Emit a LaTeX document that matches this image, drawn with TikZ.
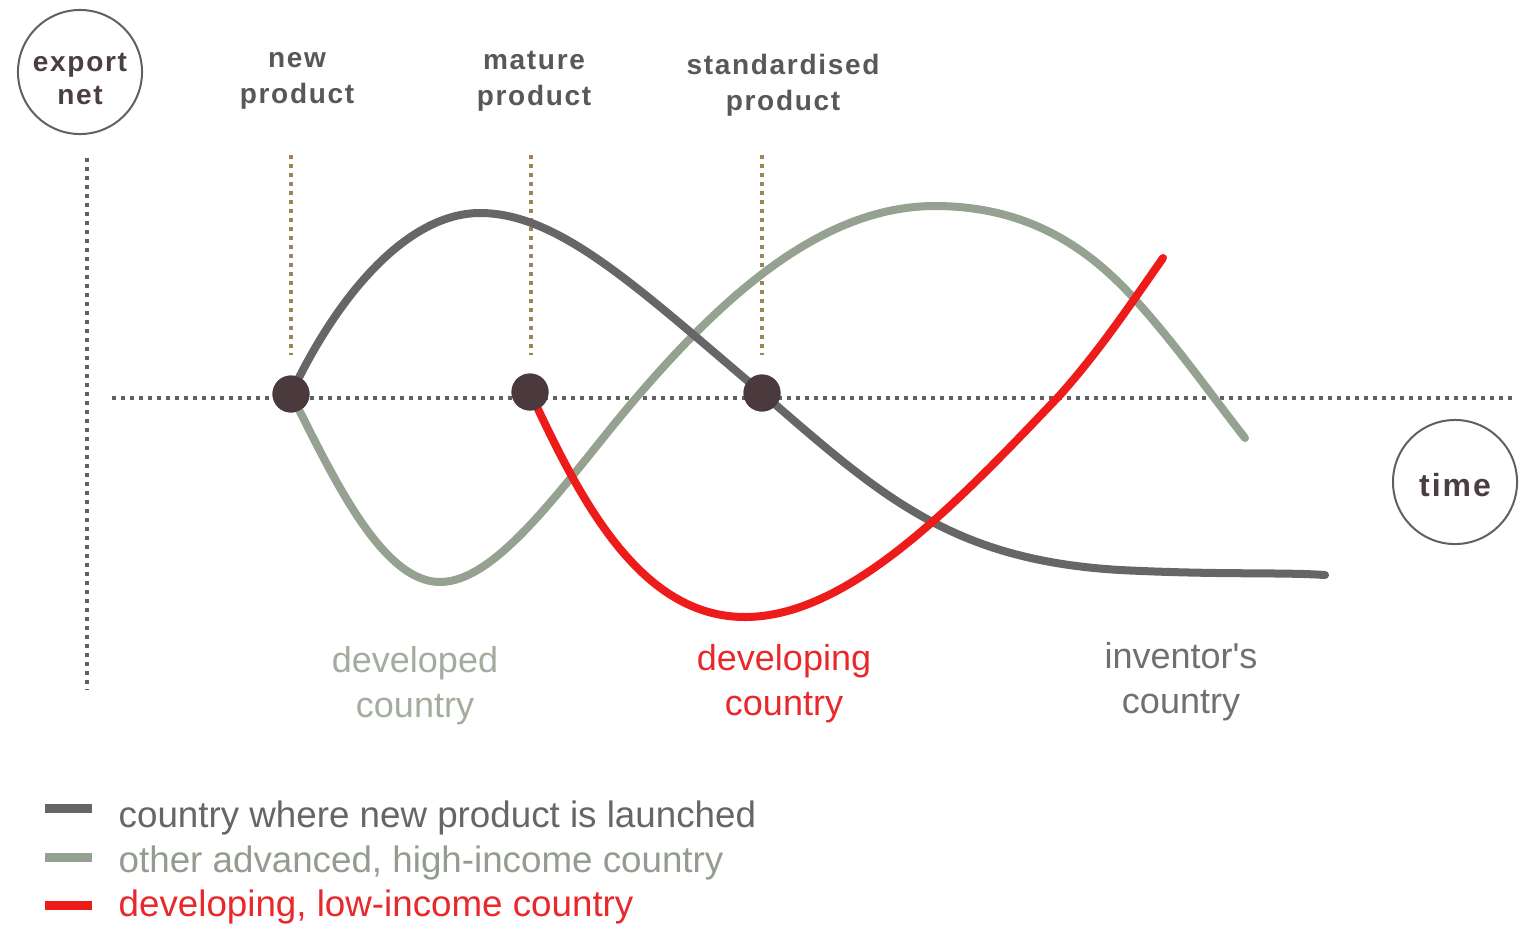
\documentclass[tikz,border=0pt]{standalone}
\usepackage{fontspec}
\setmainfont{Liberation Sans}
\newfontfamily\headfont[LetterSpace=6]{Liberation Sans}
\definecolor{darkline}{HTML}{666666}
\definecolor{greenline}{HTML}{95A291}
\definecolor{redline}{HTML}{EE1B1B}
\definecolor{dotcol}{HTML}{4B3A3D}
\definecolor{headtext}{HTML}{585858}
\definecolor{circtext}{HTML}{4A3E42}
\definecolor{devgreen}{HTML}{A3AD9F}
\definecolor{devred}{HTML}{E8282B}
\definecolor{invtext}{HTML}{707070}
\definecolor{prodline}{HTML}{9A8659}
\definecolor{axisline}{HTML}{606060}
\begin{document}
\begin{tikzpicture}[x=0.01cm,y=-0.01cm,
  curve/.style={line width=0.08cm,line cap=round},
  dotline/.style={line width=0.04cm,dash pattern=on 0.04cm off 0.05cm},
  prodtick/.style={dotline,color=prodline,line width=0.035cm},
  keydot/.style={circle,fill=dotcol,inner sep=0pt,minimum size=0.37cm},
  bubble/.style={circle,draw=axisline,line width=0.02cm,minimum size=1.24cm,inner sep=0pt},
  bubbletext/.style={align=center,text=circtext,inner sep=0pt},
  head/.style={align=center,text=headtext,font=\headfont\bfseries\fontsize{7.97pt}{10.24pt}\selectfont},
  clabel/.style={align=center,font=\fontsize{10.24pt}{12.8pt}\selectfont},
  legtext/.style={anchor=mid west,inner sep=0pt,font=\fontsize{10.45pt}{12.5pt}\selectfont},
  swatch/.style={line width=0.09cm}]
\useasboundingbox (0,0) rectangle (1522,930);
% axes
\coordinate (ax1) at (87,158);
\coordinate (ax2) at (87,690);
\coordinate (hx1) at (112,398);
\coordinate (hx2) at (1515,398);
\draw[dotline,color=axisline] (ax1) -- (ax2);
\draw[dotline,color=axisline] (hx1) -- (hx2);
% bubbles
\node[bubble] (export) at (80,72) {};
\node[bubbletext,font=\headfont\bfseries\fontsize{7.97pt}{9.4pt}\selectfont] (exportlbl) at (80,79) {export\\net};
\node[bubble] (time) at (1455,482) {};
\node[bubbletext,font=\headfont\bfseries\fontsize{9.1pt}{11pt}\selectfont] (timelbl) at (1455,485) {time};
% stage labels
\node[head] (new) at (297,81) {new\\product};
\node[head] (mature) at (534,81) {mature\\product};
\node[head] (std) at (783,85) {standardised\\product};
% key dots
\node[keydot] (d1) at (291,394) {};
\node[keydot] (d2) at (530,392) {};
\node[keydot] (d3) at (762,393) {};
% stage ticks
\coordinate (t1) at (291,155);
\coordinate (t2) at (531,155);
\coordinate (t3) at (762,155);
\coordinate (b1) at (291,355);
\coordinate (b2) at (531,355);
\coordinate (b3) at (762,355);
\draw[prodtick] (t1) -- (b1);
\draw[prodtick] (t2) -- (b2);
\draw[prodtick] (t3) -- (b3);
% curves
\draw[curve,color=greenline] (d1.center) .. controls (330,470) and (380,582) .. (440,582)
  .. controls (500,582) and (570,475) .. (636,398)
  .. controls (720,300) and (820,206) .. (935,206)
  .. controls (1040,206) and (1100,260) .. (1140,305)
  .. controls (1180,350) and (1215,400) .. (1245,438);
\draw[curve,color=darkline] (d1.center) .. controls (340,290) and (410,213) .. (480,213)
  .. controls (560,213) and (640,290) .. (d3.center)
  .. controls (880,495) and (950,560) .. (1120,570)
  .. controls (1220,575) and (1280,572) .. (1325,575);
\draw[curve,color=redline] (d2.center) .. controls (580,500) and (640,617) .. (745,617)
  .. controls (850,617) and (960,500) .. (1060,395)
  .. controls (1100,350) and (1130,305) .. (1163,258);
% redraw dots on top
\node[keydot] at (d1) {};
\node[keydot] at (d2) {};
\node[keydot] at (d3) {};
% country labels
\node[clabel,text=devgreen] (dev) at (415,686) {developed\\country};
\node[clabel,text=devred] (dvl) at (784,684) {developing\\country};
\node[clabel,text=invtext] (inv) at (1181,682) {inventor\textquotesingle s\\country};
% legend
\coordinate (s1a) at (45,808); \coordinate (s1b) at (92,808);
\coordinate (s2a) at (45,857); \coordinate (s2b) at (92,857);
\coordinate (s3a) at (45,905); \coordinate (s3b) at (92,905);
\draw[swatch,color=darkline] (s1a) -- (s1b);
\draw[swatch,color=greenline] (s2a) -- (s2b);
\draw[swatch,color=redline] (s3a) -- (s3b);
\node[legtext,text=darkline] (l1) at (118,818) {country where new product is launched};
\node[legtext,text=devgreen!90!black] (l2) at (118,863) {other advanced, high-income country};
\node[legtext,text=devred] (l3) at (118,907) {developing, low-income country};
\end{tikzpicture}
\end{document}
